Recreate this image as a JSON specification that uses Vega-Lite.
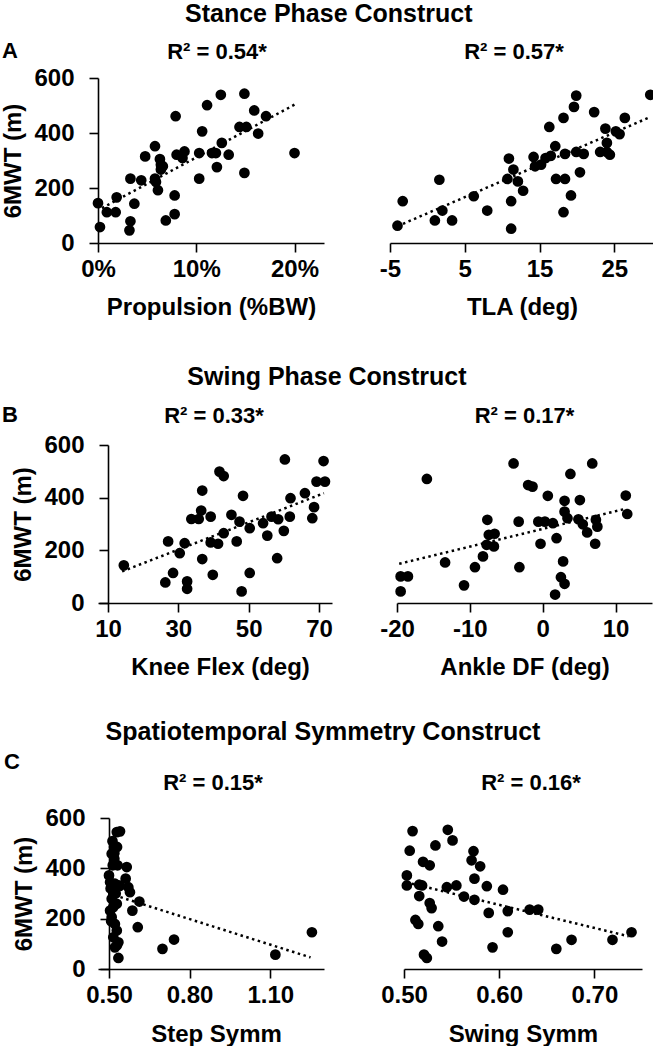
{
  "$schema": "https://vega.github.io/schema/vega-lite/v6.json",
  "padding": {"left": 1, "top": 2, "right": 0, "bottom": 0},
  "background": "white",
  "config": {
    "font": "Liberation Sans",
    "view": {"stroke": null},
    "axis": {"grid": false, "domainColor": "black", "domainWidth": 1.6, "tickColor": "black", "tickWidth": 1.6, "tickSize": 9, "labelFont": "Liberation Sans", "labelFontSize": 24, "labelFontWeight": "bold", "labelColor": "black", "titleFont": "Liberation Sans", "titleFontSize": 24, "titleFontWeight": "bold", "titleColor": "black", "labelOverlap": false, "labelFlush": false},
    "axisY": {"titlePadding": 8, "labelPadding": 15},
    "axisX": {"titlePadding": 14, "labelPadding": 5},
    "title": {"font": "Liberation Sans", "fontSize": 22, "fontWeight": "bold", "color": "black"},
    "circle": {"size": 115, "color": "black", "opacity": 1}
  },
  "datasets": {
    "propulsion": [
      {"x": 0, "y": 145}, {"x": 0.002, "y": 58}, {"x": 0.009, "y": 112}, {"x": 0.018, "y": 112}, {"x": 0.019, "y": 166}, {"x": 0.032, "y": 46}, {"x": 0.033, "y": 79}, {"x": 0.033, "y": 234}, {"x": 0.037, "y": 143}, {"x": 0.044, "y": 228}, {"x": 0.048, "y": 315}, {"x": 0.058, "y": 352}, {"x": 0.058, "y": 234}, {"x": 0.059, "y": 222}, {"x": 0.061, "y": 192}, {"x": 0.063, "y": 305}, {"x": 0.064, "y": 285}, {"x": 0.064, "y": 267}, {"x": 0.066, "y": 279}, {"x": 0.069, "y": 82}, {"x": 0.079, "y": 461}, {"x": 0.078, "y": 173}, {"x": 0.078, "y": 105}, {"x": 0.080, "y": 321}, {"x": 0.086, "y": 309}, {"x": 0.088, "y": 333}, {"x": 0.103, "y": 327}, {"x": 0.103, "y": 234}, {"x": 0.106, "y": 406}, {"x": 0.111, "y": 501}, {"x": 0.116, "y": 327}, {"x": 0.120, "y": 327}, {"x": 0.121, "y": 276}, {"x": 0.125, "y": 539}, {"x": 0.126, "y": 364}, {"x": 0.133, "y": 321}, {"x": 0.144, "y": 422}, {"x": 0.149, "y": 543}, {"x": 0.149, "y": 255}, {"x": 0.151, "y": 422}, {"x": 0.159, "y": 482}, {"x": 0.163, "y": 398}, {"x": 0.171, "y": 461}, {"x": 0.200, "y": 327}
    ],
    "propulsionFit": [{"x": 0.004, "y": 127}, {"x": 0.2, "y": 503}],
    "tla": [
      {"x": -4.0, "y": 63}, {"x": -3.3, "y": 152}, {"x": 1.0, "y": 82}, {"x": 1.6, "y": 230}, {"x": 2.0, "y": 118}, {"x": 3.3, "y": 82}, {"x": 6.2, "y": 170}, {"x": 8.0, "y": 118}, {"x": 10.7, "y": 233}, {"x": 10.9, "y": 307}, {"x": 11.2, "y": 152}, {"x": 11.2, "y": 52}, {"x": 11.5, "y": 267}, {"x": 12.1, "y": 224}, {"x": 12.8, "y": 190}, {"x": 14.2, "y": 313}, {"x": 14.4, "y": 279}, {"x": 15.2, "y": 285}, {"x": 15.8, "y": 309}, {"x": 16.3, "y": 422}, {"x": 16.5, "y": 317}, {"x": 17.1, "y": 352}, {"x": 17.2, "y": 233}, {"x": 18.2, "y": 455}, {"x": 18.2, "y": 112}, {"x": 18.4, "y": 324}, {"x": 18.4, "y": 233}, {"x": 19.2, "y": 173}, {"x": 19.6, "y": 495}, {"x": 19.9, "y": 536}, {"x": 19.9, "y": 331}, {"x": 20.4, "y": 257}, {"x": 20.9, "y": 324}, {"x": 22.3, "y": 476}, {"x": 23.1, "y": 331}, {"x": 23.8, "y": 416}, {"x": 24.0, "y": 364}, {"x": 24.0, "y": 331}, {"x": 24.4, "y": 321}, {"x": 25.2, "y": 406}, {"x": 25.7, "y": 396}, {"x": 26.4, "y": 455}, {"x": 29.8, "y": 539}
    ],
    "tlaFit": [{"x": -4.0, "y": 61}, {"x": 29.7, "y": 457}],
    "knee": [
      {"x": 14.5, "y": 143}, {"x": 26.3, "y": 78}, {"x": 27.1, "y": 234}, {"x": 28.5, "y": 114}, {"x": 30.4, "y": 189}, {"x": 31.8, "y": 227}, {"x": 32.5, "y": 82}, {"x": 32.5, "y": 54}, {"x": 33.7, "y": 319}, {"x": 35.8, "y": 319}, {"x": 36.5, "y": 351}, {"x": 36.8, "y": 427}, {"x": 36.8, "y": 167}, {"x": 39.2, "y": 328}, {"x": 39.2, "y": 230}, {"x": 39.8, "y": 107}, {"x": 41.3, "y": 225}, {"x": 41.7, "y": 499}, {"x": 42.9, "y": 482}, {"x": 42.9, "y": 265}, {"x": 45.1, "y": 335}, {"x": 46.6, "y": 234}, {"x": 47.4, "y": 309}, {"x": 48.0, "y": 44}, {"x": 48.4, "y": 407}, {"x": 50.3, "y": 284}, {"x": 50.3, "y": 114}, {"x": 54.1, "y": 303}, {"x": 55.3, "y": 256}, {"x": 56.5, "y": 328}, {"x": 58.1, "y": 170}, {"x": 58.4, "y": 318}, {"x": 60.0, "y": 274}, {"x": 60.3, "y": 545}, {"x": 61.7, "y": 328}, {"x": 61.9, "y": 398}, {"x": 66.0, "y": 417}, {"x": 68.1, "y": 322}, {"x": 68.6, "y": 364}, {"x": 69.3, "y": 461}, {"x": 71.3, "y": 539}, {"x": 71.7, "y": 461}
    ],
    "kneeFit": [{"x": 14.0, "y": 120}, {"x": 71.4, "y": 417}],
    "ankle": [
      {"x": -19.5, "y": 44}, {"x": -19.5, "y": 101}, {"x": -18.5, "y": 101}, {"x": -15.9, "y": 471}, {"x": -13.4, "y": 154}, {"x": -10.8, "y": 67}, {"x": -9.3, "y": 136}, {"x": -8.2, "y": 177}, {"x": -7.7, "y": 221}, {"x": -7.6, "y": 316}, {"x": -7.4, "y": 259}, {"x": -6.7, "y": 215}, {"x": -6.6, "y": 263}, {"x": -4.0, "y": 530}, {"x": -3.3, "y": 309}, {"x": -3.2, "y": 136}, {"x": -2.0, "y": 448}, {"x": -1.4, "y": 442}, {"x": -0.6, "y": 309}, {"x": -0.3, "y": 225}, {"x": 0.3, "y": 309}, {"x": 0.7, "y": 407}, {"x": 1.4, "y": 303}, {"x": 1.7, "y": 32}, {"x": 1.9, "y": 246}, {"x": 2.5, "y": 98}, {"x": 2.8, "y": 158}, {"x": 3.0, "y": 388}, {"x": 3.0, "y": 73}, {"x": 3.0, "y": 347}, {"x": 3.4, "y": 322}, {"x": 3.8, "y": 490}, {"x": 4.9, "y": 318}, {"x": 5.1, "y": 391}, {"x": 5.5, "y": 299}, {"x": 6.1, "y": 268}, {"x": 6.8, "y": 530}, {"x": 7.3, "y": 316}, {"x": 7.5, "y": 290}, {"x": 7.2, "y": 225}, {"x": 11.4, "y": 408}, {"x": 11.6, "y": 338}
    ],
    "ankleFit": [{"x": -19.7, "y": 149}, {"x": 11.1, "y": 356}],
    "step": [
      {"x": 0.541, "y": 547}, {"x": 0.529, "y": 544}, {"x": 0.513, "y": 508}, {"x": 0.519, "y": 485}, {"x": 0.530, "y": 485}, {"x": 0.510, "y": 458}, {"x": 0.520, "y": 438}, {"x": 0.532, "y": 412}, {"x": 0.514, "y": 412}, {"x": 0.566, "y": 405}, {"x": 0.500, "y": 372}, {"x": 0.504, "y": 345}, {"x": 0.562, "y": 359}, {"x": 0.522, "y": 339}, {"x": 0.535, "y": 332}, {"x": 0.572, "y": 325}, {"x": 0.578, "y": 305}, {"x": 0.510, "y": 279}, {"x": 0.516, "y": 299}, {"x": 0.613, "y": 268}, {"x": 0.504, "y": 232}, {"x": 0.587, "y": 232}, {"x": 0.510, "y": 206}, {"x": 0.522, "y": 179}, {"x": 0.529, "y": 153}, {"x": 0.607, "y": 166}, {"x": 0.516, "y": 126}, {"x": 0.535, "y": 106}, {"x": 0.522, "y": 86}, {"x": 0.535, "y": 44}, {"x": 0.699, "y": 80}, {"x": 0.742, "y": 117}, {"x": 1.119, "y": 57}, {"x": 1.255, "y": 146}, {"x": 0.516, "y": 246}, {"x": 0.529, "y": 259}, {"x": 0.506, "y": 320}, {"x": 0.525, "y": 300}, {"x": 0.540, "y": 330}, {"x": 0.520, "y": 460}, {"x": 0.508, "y": 190}, {"x": 0.530, "y": 95}
    ],
    "stepFit": [{"x": 0.50, "y": 300}, {"x": 1.25, "y": 46}],
    "swing": [
      {"x": 0.509, "y": 548}, {"x": 0.546, "y": 553}, {"x": 0.551, "y": 511}, {"x": 0.506, "y": 470}, {"x": 0.533, "y": 491}, {"x": 0.573, "y": 468}, {"x": 0.520, "y": 426}, {"x": 0.527, "y": 412}, {"x": 0.571, "y": 432}, {"x": 0.580, "y": 408}, {"x": 0.503, "y": 372}, {"x": 0.574, "y": 359}, {"x": 0.503, "y": 332}, {"x": 0.516, "y": 335}, {"x": 0.519, "y": 332}, {"x": 0.545, "y": 325}, {"x": 0.555, "y": 332}, {"x": 0.587, "y": 329}, {"x": 0.604, "y": 315}, {"x": 0.516, "y": 290}, {"x": 0.563, "y": 288}, {"x": 0.574, "y": 275}, {"x": 0.527, "y": 262}, {"x": 0.529, "y": 242}, {"x": 0.589, "y": 223}, {"x": 0.609, "y": 230}, {"x": 0.632, "y": 236}, {"x": 0.641, "y": 236}, {"x": 0.512, "y": 195}, {"x": 0.515, "y": 179}, {"x": 0.536, "y": 170}, {"x": 0.609, "y": 146}, {"x": 0.540, "y": 109}, {"x": 0.593, "y": 86}, {"x": 0.660, "y": 80}, {"x": 0.676, "y": 116}, {"x": 0.719, "y": 116}, {"x": 0.739, "y": 146}, {"x": 0.521, "y": 57}, {"x": 0.524, "y": 44}
    ],
    "swingFit": [{"x": 0.502, "y": 345}, {"x": 0.736, "y": 130}]
  },
  "columns": 1,
  "spacing": 46,
  "concat": [
    {
      "title": {"text": "Stance Phase Construct", "fontSize": 25, "anchor": "middle", "offset": 13},
      "vconcat": [{
        "title": {"text": "A", "anchor": "start", "frame": "bounds", "fontSize": 22, "offset": -22},
        "bounds": "flush",
        "spacing": 66,
        "hconcat": [
          {
            "width": 226, "height": 165,
            "title": {"text": "R² = 0.54*", "offset": 2, "dx": 6},
            "encoding": {
              "x": {"field": "x", "type": "quantitative", "scale": {"domain": [0, 0.23], "nice": false, "zero": false}, "axis": {"values": [0, 0.1, 0.2], "format": ".0%", "title": "Propulsion (%BW)"}},
              "y": {"field": "y", "type": "quantitative", "scale": {"domain": [0, 600], "nice": false}, "axis": {"values": [0, 200, 400, 600], "title": "6MWT (m)"}}
            },
            "layer": [
              {"data": {"name": "propulsion"}, "mark": "circle"},
              {"data": {"name": "propulsionFit"}, "mark": {"type": "line", "color": "black", "strokeDash": [2.5, 3.5], "strokeWidth": 2.5}}
            ]
          },
          {
            "width": 264, "height": 165,
            "title": {"text": "R² = 0.57*", "offset": 14, "dx": -8},
            "encoding": {
              "x": {"field": "x", "type": "quantitative", "scale": {"domain": [-5, 30.3], "nice": false, "zero": false}, "axis": {"values": [-5, 5, 15, 25], "labelExpr": "datum.value + ''", "title": "TLA (deg)"}},
              "y": {"field": "y", "type": "quantitative", "scale": {"domain": [0, 600], "nice": false}, "axis": null}
            },
            "layer": [
              {"data": {"name": "tla"}, "mark": "circle"},
              {"data": {"name": "tlaFit"}, "mark": {"type": "line", "color": "black", "strokeDash": [2.5, 3.5], "strokeWidth": 2.5}}
            ]
          }
        ]
      }]
    },
    {
      "columns": 1,
      "spacing": 41,
      "concat": [
        {
          "title": {"text": "Swing Phase Construct", "fontSize": 25, "anchor": "middle", "offset": 14},
          "vconcat": [{
            "title": {"text": "B", "anchor": "start", "frame": "bounds", "fontSize": 22, "offset": -22, "dx": -10},
            "bounds": "flush",
            "spacing": 65,
            "hconcat": [
              {
                "width": 234, "height": 158,
                "title": {"text": "R² = 0.33*", "offset": 5, "dx": -1},
                "encoding": {
                  "x": {"field": "x", "type": "quantitative", "scale": {"domain": [7.156, 73.7], "nice": false, "zero": false}, "axis": {"values": [10, 30, 50, 70], "title": "Knee Flex (deg)", "titleX": 122}},
                  "y": {"field": "y", "type": "quantitative", "scale": {"domain": [0, 600], "nice": false}, "axis": {"values": [0, 200, 400, 600], "offset": -10, "title": "6MWT (m)"}}
                },
                "layer": [
                  {"data": {"name": "knee"}, "mark": "circle"},
                  {"data": {"name": "kneeFit"}, "mark": {"type": "line", "color": "black", "strokeDash": [2.5, 3.5], "strokeWidth": 2.5}}
                ]
              },
              {
                "width": 255, "height": 158,
                "title": {"text": "R² = 0.17*", "offset": 17},
                "encoding": {
                  "x": {"field": "x", "type": "quantitative", "scale": {"domain": [-20, 15], "nice": false, "zero": false}, "axis": {"values": [-20, -10, 0, 10], "labelExpr": "datum.value + ''", "title": "Ankle DF (deg)"}},
                  "y": {"field": "y", "type": "quantitative", "scale": {"domain": [0, 600], "nice": false}, "axis": null}
                },
                "layer": [
                  {"data": {"name": "ankle"}, "mark": "circle"},
                  {"data": {"name": "ankleFit"}, "mark": {"type": "line", "color": "black", "strokeDash": [2.5, 3.5], "strokeWidth": 2.5}}
                ]
              }
            ]
          }]
        },
        {
          "title": {"text": "Spatiotemporal Symmetry Construct", "fontSize": 25, "anchor": "middle", "offset": 6},
          "vconcat": [{
            "title": {"text": "C", "anchor": "start", "frame": "bounds", "fontSize": 22, "offset": -2, "dx": -9},
            "bounds": "flush",
            "spacing": 80,
            "hconcat": [
              {
                "width": 226, "height": 151,
                "title": {"text": "R² = 0.15*", "offset": 11, "dx": 2},
                "encoding": {
                  "x": {"field": "x", "type": "quantitative", "scale": {"domain": [0.4591, 1.3], "nice": false, "zero": false}, "axis": {"values": [0.5, 0.8, 1.1], "format": ".2f", "labelPadding": 5, "titlePadding": 15, "title": "Step Symm", "titleX": 118}},
                  "y": {"field": "y", "type": "quantitative", "scale": {"domain": [0, 600], "nice": false}, "axis": {"values": [0, 200, 400, 600], "offset": -11, "title": "6MWT (m)"}}
                },
                "layer": [
                  {"data": {"name": "step"}, "mark": "circle"},
                  {"data": {"name": "stepFit"}, "mark": {"type": "line", "color": "black", "strokeDash": [2.5, 3.5], "strokeWidth": 2.5}}
                ]
              },
              {
                "width": 238, "height": 151,
                "title": {"text": "R² = 0.16*", "offset": 23, "dx": 8},
                "encoding": {
                  "x": {"field": "x", "type": "quantitative", "scale": {"domain": [0.5, 0.75], "nice": false, "zero": false}, "axis": {"values": [0.5, 0.6, 0.7], "format": ".2f", "labelPadding": 5, "titlePadding": 15, "title": "Swing Symm"}},
                  "y": {"field": "y", "type": "quantitative", "scale": {"domain": [0, 600], "nice": false}, "axis": null}
                },
                "layer": [
                  {"data": {"name": "swing"}, "mark": "circle"},
                  {"data": {"name": "swingFit"}, "mark": {"type": "line", "color": "black", "strokeDash": [2.5, 3.5], "strokeWidth": 2.5}}
                ]
              }
            ]
          }]
        }
      ]
    }
  ]
}
